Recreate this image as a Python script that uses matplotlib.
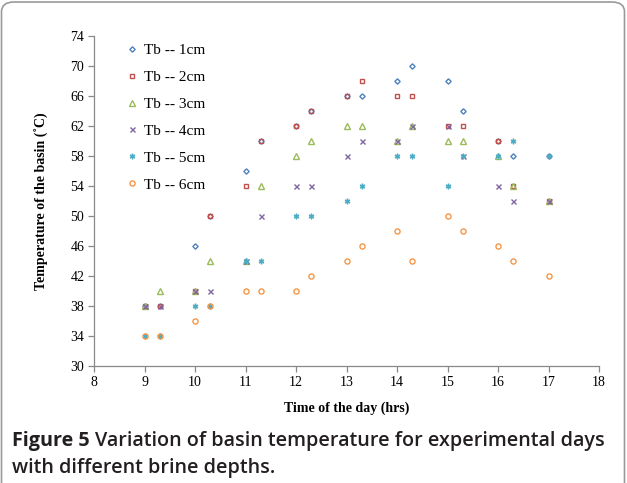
import matplotlib
matplotlib.use("Agg")
import matplotlib.pyplot as plt
from matplotlib.patches import FancyBboxPatch

hours = [9, 9.3, 10, 10.3, 11, 11.3, 12, 12.3, 13, 13.3, 14, 14.3, 15, 15.3, 16, 16.3, 17]
tb_1cm = [38, 38, 46, 50, 56, 60, 62, 64, 66, 66, 68, 70, 68, 64, 60, 58, 58]
tb_2cm = [38, 38, 40, 50, 54, 60, 62, 64, 66, 68, 66, 66, 62, 62, 60, 54, 52]
tb_3cm = [38, 40, 40, 44, 44, 54, 58, 60, 62, 62, 60, 62, 60, 60, 58, 54, 52]
tb_4cm = [38, 38, 40, 40, 44, 50, 54, 54, 58, 60, 60, 62, 62, 58, 54, 52, 52]
tb_5cm = [34, 34, 38, 38, 44, 44, 50, 50, 52, 54, 58, 58, 54, 58, 58, 60, 58]
tb_6cm = [34, 34, 36, 38, 40, 40, 40, 42, 44, 46, 48, 44, 50, 48, 46, 44, 42]
labels = ["Tb -- 1cm", "Tb -- 2cm", "Tb -- 3cm", "Tb -- 4cm", "Tb -- 5cm", "Tb -- 6cm"]

series = [tb_1cm, tb_2cm, tb_3cm, tb_4cm, tb_5cm, tb_6cm]
colors = ["#4F81BD", "#C0504D", "#9BBB59", "#8064A2", "#4BACC6", "#F79646"]
markers = ["D", "s", "^", "x", (6, 2, 0), "o"]
sizes = [2.7, 3.5, 3.8, 3.6, 4.0, 3.7]

serif = ["Liberation Serif", "DejaVu Serif"]

fig = plt.figure(figsize=(6.27, 4.83), dpi=100)
ax = fig.add_axes([94/627, 1-366/483, (599-94)/627, (366-36)/483])

for vals, c, m, s, lab in zip(series, colors, markers, sizes, labels):
    ax.plot(hours, vals, linestyle="none", marker=m, markersize=s,
            markerfacecolor="none", markeredgecolor=c, markeredgewidth=1.0,
            color=c, label=lab)

ax.set_xlim(8, 18)
ax.set_ylim(30, 74)
ax.set_xticks(range(8, 19))
ax.set_yticks(range(30, 75, 4))
for sp in ["top", "right"]:
    ax.spines[sp].set_visible(False)
for sp in ["left", "bottom"]:
    ax.spines[sp].set_color("#888888")
    ax.spines[sp].set_linewidth(0.9)
ax.tick_params(direction="out", length=4, width=0.9, color="#888888",
               labelsize=10, pad=3)
for t in ax.get_xticklabels() + ax.get_yticklabels():
    t.set_fontfamily(serif)

ax.set_xlabel("Time of the day (hrs)", fontsize=10, fontweight="bold",
              family=serif, labelpad=9)
ax.set_ylabel("Temperature of the basin (˚C)", fontsize=10, fontweight="bold",
              family=serif, labelpad=15)

leg = ax.legend(loc="upper left", bbox_to_anchor=(0.048, 1.006), frameon=False,
                prop={"family": serif, "size": 11}, handlelength=0.6,
                handletextpad=0.5, labelspacing=0.87, borderaxespad=0.2)

# outer rounded frame
frame = FancyBboxPatch((1.5/627, -0.02), 1 - 4/627, 1 - 2/483 + 0.02,
                       boxstyle="round,pad=0,rounding_size=0.02",
                       transform=fig.transFigure, fill=False,
                       edgecolor="#9a9a9a", linewidth=1.2, zorder=0)
fig.patches.append(frame)

cap_font = ["Open Sans", "DejaVu Sans"]
fs = 14.2
fig.canvas.draw()
r = fig.canvas.get_renderer()
t1 = fig.text(12/627, 1-446/483, "Figure 5", fontsize=fs, fontweight="bold",
              family=cap_font, color="#231f20", va="baseline")
bb = t1.get_window_extent(renderer=r)
fig.text((bb.x1 + 5)/627, 1-446/483,
         "Variation of basin temperature for experimental days",
         fontsize=fs, fontweight="semibold", family=cap_font, color="#231f20",
         va="baseline")
fig.text(12/627, 1-473/483, "with different brine depths.", fontsize=fs,
         fontweight="semibold", family=cap_font, color="#231f20", va="baseline")

fig.savefig("out.png", dpi=100)
